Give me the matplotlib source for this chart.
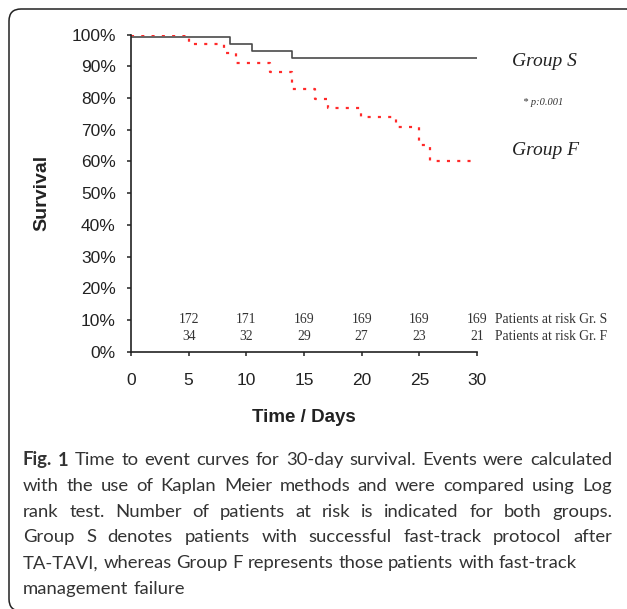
import matplotlib
matplotlib.use('Agg')
import matplotlib.pyplot as plt
from matplotlib.patches import FancyBboxPatch
from matplotlib.transforms import IdentityTransform

plt.rcParams['font.family'] = ['Liberation Sans', 'DejaVu Sans']
plt.rcParams['lines.scale_dashes'] = False

# ========================
# 데이터
# ========================
s_days = [0, 8.6, 10.5, 14.0, 30]
s_surv = [0.994, 0.971, 0.949, 0.926, 0.926]

f_days = [0, 5.05, 8.05, 9.1, 12.05, 14.0, 15.95, 17.05, 19.95, 23.0, 25.0, 25.9, 30]
f_surv = [1.0, 0.970, 0.941, 0.912, 0.881, 0.829, 0.797, 0.770, 0.739, 0.710, 0.652, 0.602, 0.602]

risk_days = [5, 10, 15, 20, 25, 30]
risk_s = [172, 171, 169, 169, 169, 169]
risk_f = [34, 32, 29, 27, 23, 21]

x_ticks = [0, 5, 10, 15, 20, 25, 30]
y_ticks = [0, 0.1, 0.2, 0.3, 0.4, 0.5, 0.6, 0.7, 0.8, 0.9, 1.0]

caption_lines = [
    ("Fig. 1", "Time to event curves for 30-day survival. Events were calculated", True),
    ("", "with the use of Kaplan Meier methods and were compared using Log", True),
    ("", "rank test. Number of patients at risk is indicated for both groups.", True),
    ("", "Group S denotes patients with successful fast-track protocol after", True),
    ("", "TA-TAVI, whereas Group F represents those patients with fast-track", False),
    ("", "management failure", False),
]

W, H = 627, 609
fig = plt.figure(figsize=(W / 100, H / 100), dpi=100)
ax = fig.add_axes([131 / W, 1 - 351.7 / H, 346 / W, 317 / H])

ax.step(s_days, s_surv, where='post', color='#4a4a4a', lw=1.2)
ax.step(f_days, f_surv, where='post', color='#ff2a2a', lw=1.6, dashes=(2.2, 5.2))

ax.set_xlim(0, 30)
ax.set_ylim(0, 1.0)
ax.set_xticks(x_ticks)
ax.set_yticks(y_ticks)
ax.set_yticklabels([f"{int(round(v * 100))}%" for v in y_ticks])
for side in ['top', 'right']:
    ax.spines[side].set_visible(False)
for side in ['left', 'bottom']:
    ax.spines[side].set_linewidth(1.2)
    ax.spines[side].set_color('#222222')
ax.tick_params(axis='both', direction='out', length=3, width=1.1, color='#222222',
               labelsize=12.5, labelcolor='#222222')
ax.tick_params(axis='x', pad=12.5)
ax.tick_params(axis='y', pad=8)

# 환자 수 (at risk)
for d, ns, nf in zip(risk_days, risk_s, risk_f):
    ax.text(d, 0.10, str(ns), ha='center', va='center', fontsize=9.8,
            family='Liberation Serif', color='#333333', clip_on=False)
    ax.text(d, 0.047, str(nf), ha='center', va='center', fontsize=9.8,
            family='Liberation Serif', color='#333333', clip_on=False)
ax.text(1.052, 0.10, "Patients at risk Gr. S", transform=ax.transAxes, ha='left', va='center',
        fontsize=9.8, family='Liberation Serif', color='#333333')
ax.text(1.052, 0.047, "Patients at risk Gr. F", transform=ax.transAxes, ha='left', va='center',
        fontsize=9.8, family='Liberation Serif', color='#333333')

# 그룹 라벨
ax.text(1.101, 0.914, "Group S", transform=ax.transAxes, ha='left', va='center',
        fontsize=14, family='Liberation Serif', style='italic', color='#222222')
ax.text(1.191, 0.785, "* p:0.001", transform=ax.transAxes, ha='center', va='center',
        fontsize=7.5, family='Liberation Serif', style='italic', color='#333333')
ax.text(1.101, 0.636, "Group F", transform=ax.transAxes, ha='left', va='center',
        fontsize=14, family='Liberation Serif', style='italic', color='#222222')

# 축 제목
fig.text(42 / W, 1 - 193 / H, "Survival", rotation=90, ha='center', va='center',
         fontsize=14, fontweight='bold', color='#222222')
fig.text(304 / W, 1 - 418 / H, "Time / Days", ha='center', va='center',
         fontsize=13.5, fontweight='bold', color='#222222')

# ========================
# 캡션 (양쪽 정렬)
# ========================
renderer = fig.canvas.get_renderer()
cap_left, cap_right = 23, 612
cap_size = 13.3
cap_y0, cap_dy = 460, 25.8


def word_width(txt, bold):
    t = fig.text(0, 0, txt, fontsize=cap_size, family='Lato',
                 fontweight='bold' if bold else 'normal')
    w = t.get_window_extent(renderer).width
    t.remove()
    return w


space_w = word_width("a a", False) - 2 * word_width("a", False)

for i, (bold_part, rest, justify) in enumerate(caption_lines):
    words = [(w, True) for w in bold_part.split()] + [(w, False) for w in rest.split()]
    widths = [word_width(w, b) for w, b in words]
    if justify and len(words) > 1:
        gap = (cap_right - cap_left - sum(widths)) / (len(words) - 1)
    else:
        gap = space_w
    x = cap_left
    y = 1 - (cap_y0 + i * cap_dy) / H
    for (w, b), wd in zip(words, widths):
        fig.text(x / W, y, w, fontsize=cap_size, family='Lato',
                 fontweight='bold' if b else 'normal', color='#333333',
                 ha='left', va='center')
        x += wd + gap

# 테두리
box = FancyBboxPatch((9, -2), 630, 602, boxstyle="round,pad=0,rounding_size=12",
                     transform=IdentityTransform(), fill=False, lw=1.1, ec='#222222')
fig.add_artist(box)

fig.savefig('out.png', dpi=100)
